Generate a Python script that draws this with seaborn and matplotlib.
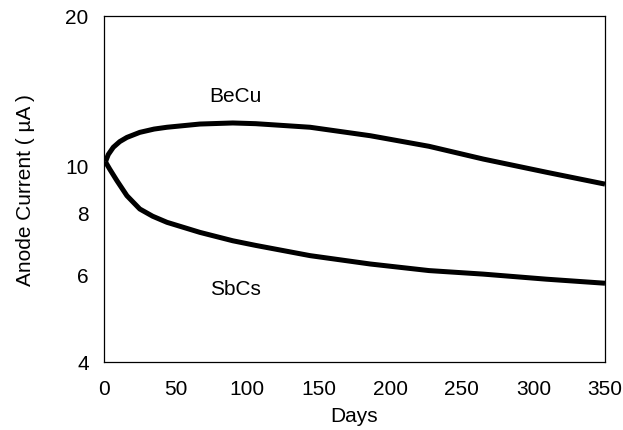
import matplotlib
matplotlib.use("Agg")
import matplotlib.pyplot as plt
import matplotlib.ticker as mticker
import seaborn as sns
import pandas as pd

becu_days = [1, 3, 6.5, 11, 16, 25, 35, 44, 67, 90, 106, 144, 186, 227, 265, 309, 350]
becu = [10.15, 10.50, 10.86, 11.15, 11.37, 11.64, 11.82, 11.92, 12.10, 12.16, 12.12, 11.92, 11.46, 10.91, 10.28, 9.67, 9.15]
sbcs_days = [1, 4, 9, 16, 25, 34, 44, 67, 90, 106, 144, 186, 227, 265, 309, 350]
sbcs = [10.15, 9.81, 9.30, 8.67, 8.15, 7.88, 7.66, 7.31, 7.03, 6.88, 6.56, 6.31, 6.12, 6.02, 5.88, 5.77]
y_ticks = [4, 6, 8, 10, 20]
x_ticks = [0, 50, 100, 150, 200, 250, 300, 350]

sns.set_theme(style="white")
plt.rcParams['font.family'] = ['Liberation Sans', 'DejaVu Sans']

df = pd.DataFrame({
    "Days": becu_days + sbcs_days,
    "Current": becu + sbcs,
    "Cathode": ["BeCu"] * len(becu_days) + ["SbCs"] * len(sbcs_days),
})

fs = 15
fig = plt.figure(figsize=(6.23, 4.31), dpi=100)
ax = fig.add_axes([104/623, 1 - 363/431, (605-104)/623, (363-17)/431])
sns.lineplot(data=df, x="Days", y="Current", units="Cathode", estimator=None,
             color="black", linewidth=3.6, ax=ax, legend=False,
             solid_joinstyle="round", solid_capstyle="butt")
ax.set_yscale("log")
ax.set_ylim(4, 20)
ax.set_xlim(0, 350)
ax.yaxis.set_major_locator(mticker.FixedLocator(y_ticks))
ax.yaxis.set_minor_locator(mticker.NullLocator())
ax.yaxis.set_major_formatter(mticker.FixedFormatter([str(t) for t in y_ticks]))
ax.set_xticks(x_ticks)
ax.tick_params(axis="x", length=0, labelsize=fs, colors="black", pad=12)
ax.tick_params(axis="y", length=0, labelsize=fs, colors="black", pad=11)
for s in ax.spines.values():
    s.set_color("black")
    s.set_linewidth(0.9)
ax.set_xlabel("Days", fontsize=fs, color="black", labelpad=6)
ax.set_ylabel("Anode Current ( µA )", fontsize=fs, color="black", labelpad=22)
ax.text(92, 13.8, "BeCu", fontsize=fs, ha="center", va="center", color="black")
ax.text(92, 5.62, "SbCs", fontsize=fs, ha="center", va="center", color="black")
ax.grid(False)
fig.savefig("out.png", dpi=100)
